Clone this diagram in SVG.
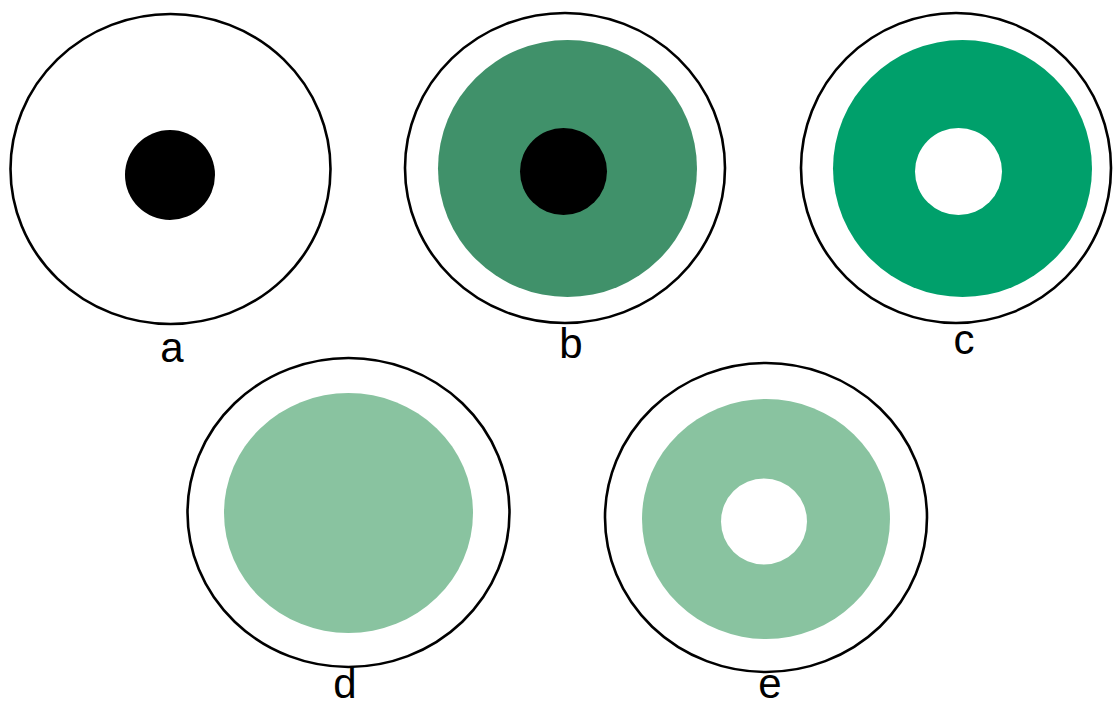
<svg xmlns="http://www.w3.org/2000/svg" width="1114" height="708" viewBox="0 0 1114 708">
<style>
.ring{fill:#ffffff;stroke:#000000;stroke-width:2.6}
.dark{fill:#40916a}
.mid{fill:#00a06b}
.light{fill:#89c3a0}
.blk{fill:#000000}
.hole{fill:#ffffff}
.lbl{font-family:"Liberation Sans",Arial,sans-serif;font-size:42px;fill:#000000;text-anchor:middle}
</style>
<rect width="1114" height="708" fill="#ffffff"/>
<g id="node-a">
<ellipse class="ring" cx="170.5" cy="169" rx="160" ry="155"/>
<circle class="blk" cx="170" cy="175" r="45"/>
<text class="lbl" x="172" y="362">a</text>
</g>
<g id="node-b">
<ellipse class="ring" cx="565" cy="168" rx="160" ry="155"/>
<ellipse class="dark" cx="567.5" cy="168.5" rx="129.5" ry="128.5"/>
<circle class="blk" cx="563.5" cy="171.5" r="43.5"/>
<text class="lbl" x="571" y="358">b</text>
</g>
<g id="node-c">
<ellipse class="ring" cx="956" cy="168" rx="155" ry="155"/>
<ellipse class="mid" cx="962.5" cy="168.5" rx="129.5" ry="128.5"/>
<circle class="hole" cx="958.5" cy="171.5" r="43.5"/>
<text class="lbl" x="964" y="354">c</text>
</g>
<g id="node-d">
<ellipse class="ring" cx="348.5" cy="512.5" rx="161" ry="154.5"/>
<ellipse class="light" cx="348.5" cy="513" rx="124.5" ry="120"/>
<text class="lbl" x="345" y="698">d</text>
</g>
<g id="node-e">
<ellipse class="ring" cx="766" cy="517.5" rx="161" ry="154.5"/>
<ellipse class="light" cx="766" cy="519" rx="124" ry="120"/>
<circle class="hole" cx="764" cy="521.5" r="43"/>
<text class="lbl" x="770" y="698">e</text>
</g>
<g id="connectors"/>
</svg>
